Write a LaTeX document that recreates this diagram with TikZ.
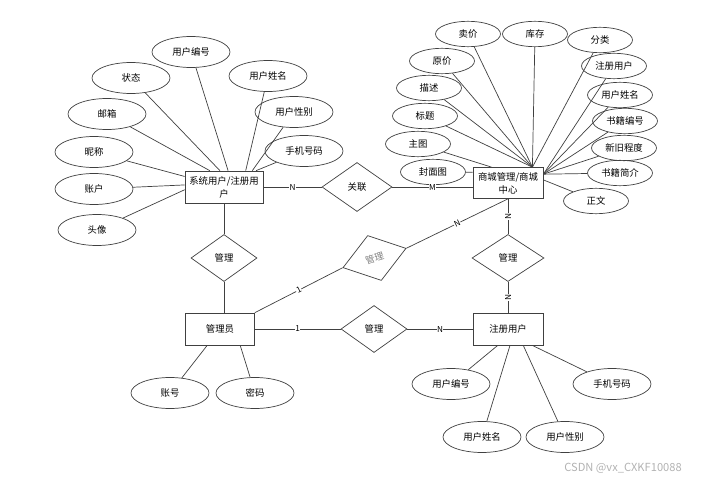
\documentclass[tikz,border=0pt]{standalone}
\usepackage{fontspec}
\setmainfont{Noto Sans CJK SC}
\usetikzlibrary{shapes.geometric}

\tikzset{
    ent/.style={rectangle, draw=black!75, line width=0.6pt, minimum height=0.96cm, inner sep=1pt, align=center, font=\fontsize{8}{11}\selectfont},
    attrib/.style={ellipse, draw=black!75, line width=0.6pt, minimum width=2.34cm, minimum height=0.93cm, inner sep=0pt, font=\fontsize{8}{10}\selectfont},
    attribs/.style={attrib, minimum width=1.95cm, minimum height=0.76cm},
    rel/.style={diamond, draw=black!75, line width=0.6pt, inner sep=0pt, minimum width=1.98cm, minimum height=1.41cm, font=\fontsize{8}{10}\selectfont},
    card/.style={fill=white, inner sep=0.4pt, font=\fontsize{7}{8}\selectfont},
    link/.style={draw=black!75, line width=0.6pt}
}

\begin{document}
\begin{tikzpicture}[x=0.03cm, y=-0.03cm]
    \useasboundingbox (0,0) rectangle (706,482);

    % Entities
    \node[ent, minimum width=2.34cm] (user) at (224,187) {系统用户/注册用\\户};
    \node[ent, minimum width=2.1cm, minimum height=0.93cm] (mall) at (508,183) {商城管理/商城\\中心};
    \node[ent, minimum width=2.07cm] (admin) at (220,329) {管理员};
    \node[ent, minimum width=2.1cm] (reg) at (508,329) {注册用户};

    % Relations
    \node[rel, minimum width=2.1cm, minimum height=1.47cm] (assoc) at (357,187) {关联};
    \node[rel] (mgrA) at (224,258) {管理};
    \node[rel, rotate=17, text=black!50] (mgrB) at (374.5,258) {管理};
    \node[rel, minimum width=2.16cm] (mgrC) at (508,258) {管理};
    \node[rel] (mgrD) at (374,329) {管理};

    % User attributes
    \foreach \n/\x/\y/\t/\a in {ua/191/52/用户编号/76, ub/131/78/状态/104, uc/268/76/用户姓名/37,
        ud/107/114/邮箱/131, ue/294/112/用户性别/30, uf/94/152/昵称/165,
        ug/304/151/手机号码/27, uh/94/189/账户/177, ui/97/230/头像/184} {
        \node[attrib] (\n) at (\x,\y) {\t};
        \draw[link] (\n) -- (user.\a);
    }

    % Mall attributes
    \foreach \n/\x/\y/\t/\a in {ma/468/34/卖价/33, mb/535/34/库存/33, mc/600/40/分类/33,
        md/442/61/原价/33, me/614/66/注册用户/14, mf/429/88/描述/33,
        mg/620/95/用户姓名/14, mh/425/116/标题/33, mi/625/121/书籍编号/14,
        mj/418/144/主图/136, mk/624/148/新旧程度/14, ml/433/172/封面图/163,
        mm/620/173/书籍简介/14, mn/596/201/正文/5} {
        \node[attribs] (\n) at (\x,\y) {\t};
        \draw[link] (\n) -- (mall.\a);
    }

    % Admin and registered user attributes
    \foreach \n/\x/\y/\t/\o/\a in {aa/170/393/账号/admin/232, ab/255/393/密码/admin/321,
        ra/451/384/用户编号/reg/238, rb/482/437/用户姓名/reg/277,
        rc/565/437/用户性别/reg/313, rd/612/384/手机号码/reg/326} {
        \node[attrib] (\n) at (\x,\y) {\t};
        \draw[link] (\n) -- (\o.\a);
    }

    % Connections
    \draw[link] (user.east) -- node[card] {N} (assoc.west);
    \draw[link] (assoc.east) -- node[card] {M} (assoc.east -| mall.west);
    \draw[link] (user.south) -- (mgrA.north);
    \draw[link] (mgrA.south) -- (mgrA.south |- admin.north);
    \draw[link] (admin.north east) -- node[card, sloped] {1} (mgrB.west);
    \draw[link] (mgrB.east) -- node[card, sloped] {N} (mall.south);
    \draw[link] (mall.south) -- node[card, sloped] {N} (mgrC.north);
    \draw[link] (mgrC.south) -- node[card, sloped] {N} (reg.north);
    \draw[link] (admin.east) -- node[card] {1} (mgrD.west);
    \draw[link] (mgrD.east) -- node[card] {N} (reg.west);

    % Watermark
    \node[text=black!30, font=\fontsize{9.5}{10}\selectfont] (mark) at (623,468) {CSDN @vx\_CXKF10088};
\end{tikzpicture}
\end{document}
